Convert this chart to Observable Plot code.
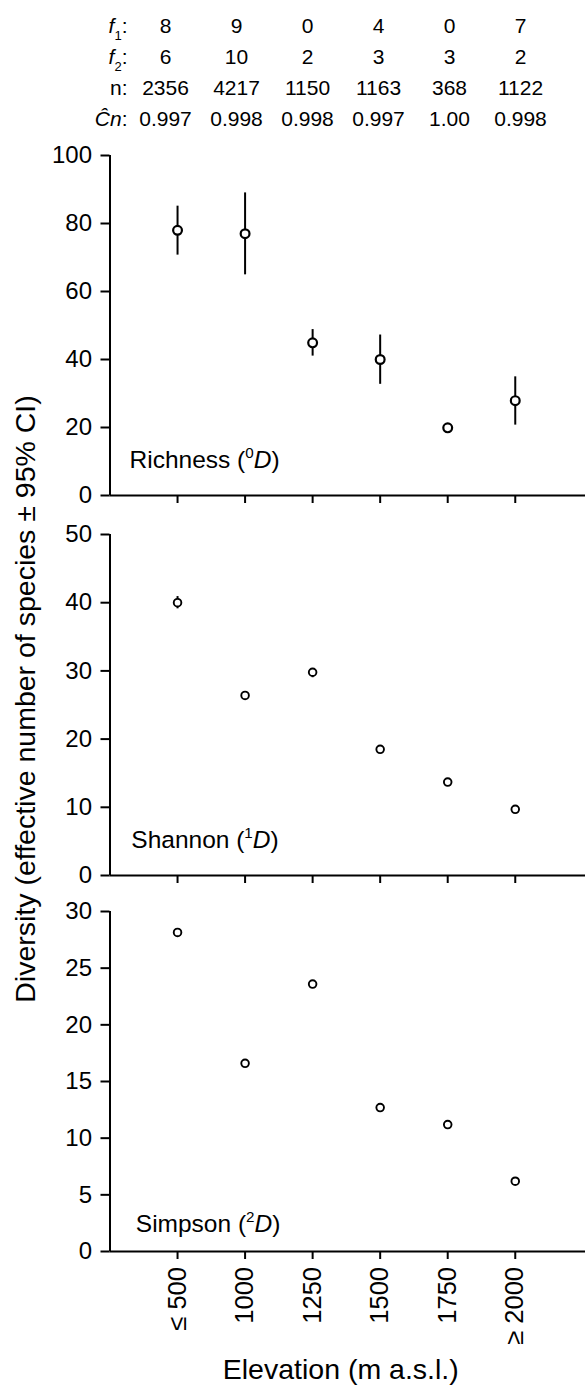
<!DOCTYPE html>
<html><head><meta charset="utf-8">
<script src="https://cdn.jsdelivr.net/npm/d3@7"></script>
<script src="https://cdn.jsdelivr.net/npm/@observablehq/plot@0.6"></script>
<style>
html,body{margin:0;padding:0;background:#fff;}
#wrap{position:relative;width:585px;height:1392px;overflow:hidden;font-family:"Liberation Sans",Arial,Helvetica,sans-serif;color:#000;}
#wrap svg{display:block;overflow:visible;}
#ytitle{position:absolute;left:25px;top:699px;transform:translate(-50%,-50%) rotate(-90deg);white-space:nowrap;font-size:28.5px;line-height:1;}
</style></head><body><div id="wrap"></div>
<script>
// ---- data ----
const elevations = ["≤ 500", "1000", "1250", "1500", "1750", "≥ 2000"];
const rowKeys = ["f1", "f2", "n", "Cn"];
const f1 = [8, 9, 0, 4, 0, 7];
const f2 = [6, 10, 2, 3, 3, 2];
const nInd = [2356, 4217, 1150, 1163, 368, 1122];
const coverage = ["0.997", "0.998", "0.998", "0.997", "1.00", "0.998"];

const richness   = [78.0, 77.0, 44.9, 40.0, 19.9, 27.9];
const richnessLo = [70.7, 64.9, 41.0, 32.7, 19.9, 20.7];
const richnessHi = [85.1, 89.0, 48.8, 47.2, 19.9, 34.9];

const shannon   = [40.0, 26.4, 29.8, 18.5, 13.7, 9.7];
const shannonLo = [39.1, 26.2, 29.0, 18.3, 13.5, 9.6];
const shannonHi = [40.9, 26.6, 30.3, 18.7, 13.9, 9.9];

const simpson   = [28.15, 16.6, 23.6, 12.7, 11.2, 6.2];
const simpsonLo = [27.95, 16.45, 23.4, 12.55, 11.05, 6.1];
const simpsonHi = [28.35, 16.75, 23.8, 12.85, 11.35, 6.3];

const yTicksRichness = [0, 20, 40, 60, 80, 100];
const yTicksShannon = [0, 10, 20, 30, 40, 50];
const yTicksSimpson = [0, 5, 10, 15, 20, 25, 30];
const panelNames = ["Richness", "Shannon", "Simpson"];
const panelOrders = ["0", "1", "2"];
const xTitle = "Elevation (m a.s.l.)";
const yTitle = "Diversity (effective number of species ± 95% CI)";

// ---- helpers ----
const FONT = '"Liberation Sans", Arial, Helvetica, sans-serif';
const SVGNS = "http://www.w3.org/2000/svg";
const baseStyle = {fontFamily: FONT, color: "black", background: "transparent", overflow: "visible"};
const TICK_FONT = 24, LABEL_FONT = 24.5, TABLE_FONT = 21, XTICK_FONT = 25.5, TITLE_FONT = 28.5;

function richText(textEl, parts, size) {
  while (textEl.firstChild) textEl.removeChild(textEl.firstChild);
  let shift = 0;
  for (const p of parts) {
    const t = document.createElementNS(SVGNS, "tspan");
    t.textContent = p.t;
    if (p.italic) t.setAttribute("font-style", "italic");
    const target = p.sup ? -0.42 * size : p.sub ? 0.32 * size : 0;
    if (target !== shift) { t.setAttribute("dy", target - shift); shift = target; }
    if (p.sup || p.sub) t.setAttribute("font-size", size * 0.62);
    textEl.appendChild(t);
  }
}
function findText(svg, str) {
  return Array.from(svg.querySelectorAll("text")).filter(t => t.textContent === str);
}

const wrap = document.getElementById("wrap");

// ---- table above the panels ----
const tableRows = [f1, f2, nInd, coverage];
const tableData = rowKeys.flatMap((k, r) => tableRows[r].map((v, i) => ({row: k, col: i + 1, v: String(v)})));
const table = Plot.plot({
  width: 585, height: 140, marginLeft: 165, marginRight: 65, marginTop: 25, marginBottom: 20,
  x: {domain: [1, 6], axis: null},
  y: {type: "point", domain: rowKeys, padding: 0, axis: null},
  style: baseStyle,
  marks: [
    Plot.text(tableData, {x: "col", y: "row", text: "v", fontSize: TABLE_FONT}),
    Plot.text(rowKeys, {y: d => d, text: d => d + ":", frameAnchor: "left", lineAnchor: "middle", dx: -38, textAnchor: "end", fontSize: TABLE_FONT})
  ]
});
const rowParts = {
  "f1:": [{t: "f", italic: true}, {t: "1", sub: true}, {t: ":"}],
  "f2:": [{t: "f", italic: true}, {t: "2", sub: true}, {t: ":"}],
  "n:": [{t: "n:"}],
  "Cn:": [{t: "Ĉn", italic: true}, {t: ":"}]
};
for (const key of Object.keys(rowParts)) findText(table, key).forEach(el => richText(el, rowParts[key], TABLE_FONT));
wrap.appendChild(table);

// ---- panels ----
const xTickValues = elevations.map((_, i) => i + 1);
function panel(o) {
  const data = o.values.map((v, i) => ({x: i + 1, v, lo: o.lo[i], hi: o.hi[i]}));
  const label = `${o.name} (${o.order}D)`;
  const marks = [
    Plot.ruleX([0], {stroke: "black", strokeWidth: 2}),
    Plot.ruleY([0], {stroke: "black", strokeWidth: 2}),
    Plot.axisY({ticks: o.yTicks, tickSize: 9, tickPadding: 9, fontSize: TICK_FONT, strokeWidth: 2, label: null}),
    Plot.axisX({ticks: xTickValues, tickSize: 8, strokeWidth: 2, label: null,
      tickFormat: o.showLabels ? (d => elevations[d - 1]) : (() => ""),
      tickRotate: o.showLabels ? -90 : 0, tickPadding: 7.5, fontSize: XTICK_FONT}),
    Plot.ruleX(data, {x: "x", y1: "lo", y2: "hi", stroke: "black", strokeWidth: 2}),
    Plot.dot(data, {x: "x", y: "v", r: o.r, fill: "white", stroke: "black", strokeWidth: o.sw}),
    Plot.text([label], {frameAnchor: "bottom-left", lineAnchor: "middle", dx: o.labelDx, dy: -o.labelUp, textAnchor: "start", fontSize: LABEL_FONT})
  ];
  if (o.xTitle) marks.push(Plot.text([o.xTitle], {frameAnchor: "bottom", lineAnchor: "middle", dx: -7, dy: 118, fontSize: TITLE_FONT}));
  const svg = Plot.plot({
    width: 585, height: o.height, marginLeft: 109.5, marginRight: 0, marginTop: o.mt, marginBottom: o.mb,
    x: {domain: [0, 7.04], axis: null},
    y: {domain: [0, o.yMax], axis: null},
    style: baseStyle,
    marks
  });
  findText(svg, label).forEach(el => richText(el, [{t: o.name + " ("}, {t: o.order, sup: true}, {t: "D", italic: true}, {t: ")"}], LABEL_FONT));
  return svg;
}

wrap.appendChild(panel({values: richness, lo: richnessLo, hi: richnessHi, yMax: 100, yTicks: yTicksRichness,
  name: panelNames[0], order: panelOrders[0], r: 4.4, sw: 2.2, height: 380, mt: 15, mb: 25, labelDx: 19.5, labelUp: 35}));
wrap.appendChild(panel({values: shannon, lo: shannonLo, hi: shannonHi, yMax: 50, yTicks: yTicksShannon,
  name: panelNames[1], order: panelOrders[1], r: 3.8, sw: 1.9, height: 375, mt: 14, mb: 20, labelDx: 21.3, labelUp: 35}));
wrap.appendChild(panel({values: simpson, lo: simpsonLo, hi: simpsonHi, yMax: 30, yTicks: yTicksSimpson,
  name: panelNames[2], order: panelOrders[2], r: 3.8, sw: 1.9, height: 497, mt: 16, mb: 141, labelDx: 25.8, labelUp: 27,
  showLabels: true, xTitle}));

const yt = document.createElement("div");
yt.id = "ytitle";
yt.textContent = yTitle;
wrap.appendChild(yt);
</script></body></html>
